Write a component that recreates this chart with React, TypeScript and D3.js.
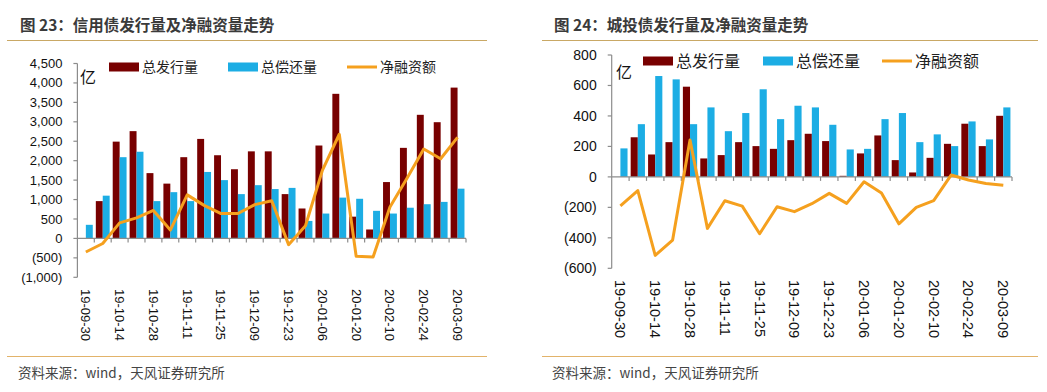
import React from "react";
import * as d3 from "d3";

// weekly dates (spring festival week skipped)
const dates = [
  "19-09-30", "19-10-07", "19-10-14", "19-10-21", "19-10-28", "19-11-04",
  "19-11-11", "19-11-18", "19-11-25", "19-12-02", "19-12-09", "19-12-16",
  "19-12-23", "19-12-30", "20-01-06", "20-01-13", "20-01-20", "20-02-03",
  "20-02-10", "20-02-17", "20-02-24", "20-03-02", "20-03-09",
];

// 图23 信用债
const creditIssue = [0, 960, 2490, 2760, 1680, 1410, 2090, 2560, 2140, 1780, 2240, 2240, 1140, 770, 2390, 3720, 560, 230, 1450, 2330, 3180, 2990, 3880];
const creditRepay = [350, 1100, 2090, 2230, 960, 1190, 960, 1710, 1500, 1140, 1370, 1270, 1300, 450, 640, 1050, 1020, 710, 640, 790, 880, 940, 1280];
const creditNet = [-350, -130, 400, 530, 720, 215, 1120, 850, 640, 640, 870, 970, -160, 325, 1750, 2680, -460, -480, 810, 1540, 2300, 2050, 2600];
const creditTicks = [-1000, -500, 0, 500, 1000, 1500, 2000, 2500, 3000, 3500, 4000, 4500];

// 图24 城投债
const lgfvIssue = [0, 260, 147, 228, 592, 121, 143, 228, 202, 184, 241, 283, 235, 7, 154, 272, 110, 29, 125, 217, 349, 202, 401];
const lgfvRepay = [187, 346, 662, 640, 346, 456, 300, 419, 575, 379, 467, 456, 342, 180, 184, 379, 419, 228, 279, 202, 364, 246, 456];
const lgfvNet = [-190, -90, -515, -415, 242, -338, -157, -192, -373, -196, -228, -176, -108, -174, -32, -106, -308, -200, -156, 12, -20, -44, -55];
const lgfvTicks = [-600, -400, -200, 0, 200, 400, 600, 800];

const RED = "#780000";
const BLUE = "#1CADE4";
const ORANGE = "#F5A01E";
const AXIS = "#8c8c8c";
const FONT = "'Liberation Sans', Arial, 'Noto Sans CJK SC', sans-serif";
const CJK = "'Noto Sans CJK SC', sans-serif";

const fmt = (v: number) => {
  const s = d3.format(",")(Math.abs(v));
  return v < 0 ? `(${s})` : s;
};

type PanelProps = {
  title: string;
  x0: number;
  x1: number;
  yTop: number;
  yBot: number;
  domain: [number, number];
  ticks: number[];
  issue: number[];
  repay: number[];
  net: number[];
  tickFont: number;
  dateFont: number;
  dateTop: number;
  titleX: number;
  ruleX: [number, number];
  legend: { x: number; y: number; font: number; gaps: number[] };
  unit: [number, number];
};

function Panel(p: PanelProps) {
  const x = d3.scaleBand<string>().domain(dates).range([p.x0, p.x1]).paddingInner(0).paddingOuter(0);
  const y = d3.scaleLinear().domain(p.domain).range([p.yBot, p.yTop]);
  const sub = d3.scaleBand<string>().domain(["a", "b"]).range([0, x.bandwidth()]).paddingInner(0).paddingOuter(0.22);
  const line = d3
    .line<number>()
    .x((_, i) => (x(dates[i]) as number) + x.bandwidth() / 2)
    .y((d) => y(d));
  const y0 = y(0);
  const bw = x.bandwidth();
  const lg = p.legend;
  return (
    <g>
      <text x={p.titleX} y={31} fontFamily={CJK} fontWeight="bold" fontSize={15.5} fill="#3a3a3a">
        {p.title}
      </text>
      <line x1={p.ruleX[0]} x2={p.ruleX[1]} y1={40.5} y2={40.5} stroke="#c9a865" strokeWidth={1} />
      <line x1={p.ruleX[0]} x2={p.ruleX[1]} y1={356.5} y2={356.5} stroke="#e2b36a" strokeWidth={1} />
      <text x={p.titleX - 2} y={378} fontFamily={CJK} fontSize={13.5} fill="#444">
        资料来源：wind，天风证券研究所
      </text>

      {/* bars */}
      {dates.map((d, i) => (
        <g key={d}>
          {p.issue[i] > 0 && (
            <rect x={(x(d) as number) + (sub("a") as number)} width={sub.bandwidth()} y={y(p.issue[i])} height={y0 - y(p.issue[i])} fill={RED} />
          )}
          <rect x={(x(d) as number) + (sub("b") as number)} width={sub.bandwidth()} y={y(p.repay[i])} height={y0 - y(p.repay[i])} fill={BLUE} />
        </g>
      ))}

      {/* y axis */}
      <line x1={p.x0} x2={p.x0} y1={y(p.domain[1])} y2={y(p.domain[0])} stroke={AXIS} strokeWidth={1.2} />
      {p.ticks.map((t) => (
        <g key={t}>
          <line x1={p.x0 - 4} x2={p.x0} y1={y(t)} y2={y(t)} stroke={AXIS} strokeWidth={1.2} />
          <text x={p.x0 - 15} y={y(t)} dy="0.35em" textAnchor="end" fontFamily={FONT} fontSize={p.tickFont} fill="#111">
            {fmt(t)}
          </text>
        </g>
      ))}

      {/* x axis */}
      <line x1={p.x0} x2={p.x1} y1={y0} y2={y0} stroke={AXIS} strokeWidth={1.2} />
      {d3.range(1, dates.length + 1).map((i) => (
        <line key={i} x1={p.x0 + i * bw} x2={p.x0 + i * bw} y1={y0} y2={y0 + 4} stroke={AXIS} strokeWidth={1.2} />
      ))}
      {dates.map((d, i) =>
        i % 2 === 0 ? (
          <text
            key={d}
            transform={`translate(${(x(d) as number) + bw / 2},${p.dateTop}) rotate(90)`}
            dy="0.35em"
            fontFamily={FONT}
            fontSize={p.dateFont}
            fill="#111"
          >
            {d}
          </text>
        ) : null
      )}

      {/* net line */}
      <path d={line(p.net) as string} fill="none" stroke={ORANGE} strokeWidth={3} strokeLinejoin="round" />

      {/* unit */}
      <text x={p.unit[0]} y={p.unit[1]} fontFamily={CJK} fontSize={16} fill="#111">
        亿
      </text>

      {/* legend */}
      <rect x={lg.x} y={lg.y - 4.5} width={30} height={9} fill={RED} />
      <text x={lg.x + 33} y={lg.y} dy="0.35em" fontFamily={CJK} fontSize={lg.font} fill="#222">
        总发行量
      </text>
      <rect x={lg.x + lg.gaps[0]} y={lg.y - 4.5} width={30} height={9} fill={BLUE} />
      <text x={lg.x + lg.gaps[0] + 33} y={lg.y} dy="0.35em" fontFamily={CJK} fontSize={lg.font} fill="#222">
        总偿还量
      </text>
      <line x1={lg.x + lg.gaps[1]} x2={lg.x + lg.gaps[1] + 30} y1={lg.y} y2={lg.y} stroke={ORANGE} strokeWidth={3} />
      <text x={lg.x + lg.gaps[1] + 33} y={lg.y} dy="0.35em" fontFamily={CJK} fontSize={lg.font} fill="#222">
        净融资额
      </text>
    </g>
  );
}

export default function App() {
  return (
    <div style={{ position: "absolute", left: 0, top: 0 }}>
      <svg width={1047} height={392} style={{ display: "block", background: "#fff" }}>
        <Panel
          title="图 23：信用债发行量及净融资量走势"
          x0={77.4}
          x1={466}
          yTop={63.5}
          yBot={277.3}
          domain={[-1000, 4500]}
          ticks={creditTicks}
          issue={creditIssue}
          repay={creditRepay}
          net={creditNet}
          tickFont={13}
          dateFont={13}
          dateTop={289}
          titleX={20}
          ruleX={[7, 487]}
          legend={{ x: 109, y: 67, font: 14, gaps: [119, 238] }}
          unit={[80, 83]}
        />
        <Panel
          title="图 24：城投债发行量及净融资量走势"
          x0={611.7}
          x1={1012}
          yTop={55}
          yBot={268.3}
          domain={[-600, 800]}
          ticks={lgfvTicks}
          issue={lgfvIssue}
          repay={lgfvRepay}
          net={lgfvNet}
          tickFont={14}
          dateFont={14.5}
          dateTop={280}
          titleX={554}
          ruleX={[542, 1038]}
          legend={{ x: 643, y: 61, font: 16, gaps: [120, 239] }}
          unit={[616, 78]}
        />
      </svg>
    </div>
  );
}
